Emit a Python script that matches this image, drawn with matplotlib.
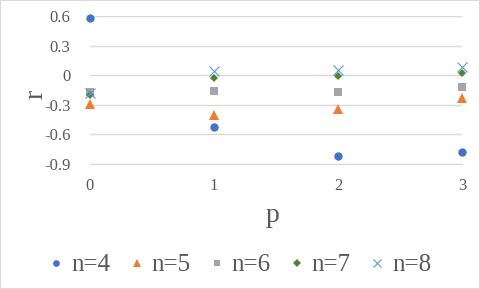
import matplotlib.pyplot as plt
from matplotlib.patches import Rectangle

plt.rcParams['font.family'] = ['Liberation Serif', 'DejaVu Serif']

p = [0, 1, 2, 3]
r_n4 = [0.58, -0.525, -0.82, -0.78]
r_n5 = [-0.29, -0.40, -0.34, -0.23]
r_n6 = [-0.17, -0.16, -0.17, -0.12]
r_n7 = [-0.20, -0.03, -0.01, 0.02]
r_n8 = [-0.18, 0.04, 0.05, 0.08]
labels = ['n=4', 'n=5', 'n=6', 'n=7', 'n=8']
yticks = [0.6, 0.3, 0, -0.3, -0.6, -0.9]
ytick_labels = ['0.6', '0.3', '0', '-0.3', '-0.6', '-0.9']

series = [r_n4, r_n5, r_n6, r_n7, r_n8]
colors = ['#4472C4', '#ED7D31', '#A5A5A5', '#548235', '#5B9BD5']
markers = ['o', '^', 's', 'D', 'x']
sizes = [6, 6.5, 6, 4.5, 7]

fig = plt.figure(figsize=(4.8, 2.89), dpi=100)
ax = fig.add_axes([0.1875, 0.4325, 0.775, 0.512])

for vals, lab, c, m, ms in zip(series, labels, colors, markers, sizes):
    ax.plot(p, vals, linestyle='none', marker=m, color=c, markersize=ms,
            markeredgewidth=0.8 if m == 'x' else 0, label=lab, clip_on=False)

ax.set_xlim(0, 3)
ax.set_ylim(-0.9, 0.6)
ax.set_yticks(yticks)
ax.set_yticklabels(ytick_labels)
ax.set_xticks(p)
ax.grid(axis='y', color='#D9D9D9', linewidth=1)
ax.set_axisbelow(True)
for s in ['top', 'right', 'left']:
    ax.spines[s].set_visible(False)
ax.spines['bottom'].set_color('#D9D9D9')
ax.tick_params(length=0, labelsize=12, labelcolor='#595959')
ax.tick_params(axis='y', pad=14)
ax.tick_params(axis='x', pad=10)
ax.set_xlabel('p', fontsize=20, color='#595959', va='center')
ax.set_ylabel('r', fontsize=20, color='#595959', va='center')
ax.xaxis.set_label_coords(0.49, -0.35)
ax.yaxis.set_label_coords(-0.145, 0.47)

fig.legend(loc='center', bbox_to_anchor=(0.5, 1 - 265 / 289), ncol=5,
           frameon=False, fontsize=18, labelcolor='#595959',
           handlelength=0.6, handletextpad=0.3, columnspacing=0.74,
           markerscale=0.8)

fig.patches.append(Rectangle((0, 0), 1, 1, transform=fig.transFigure,
                             fill=False, edgecolor='#D9D9D9', linewidth=1.5))

fig.savefig('out.png', dpi=100)
